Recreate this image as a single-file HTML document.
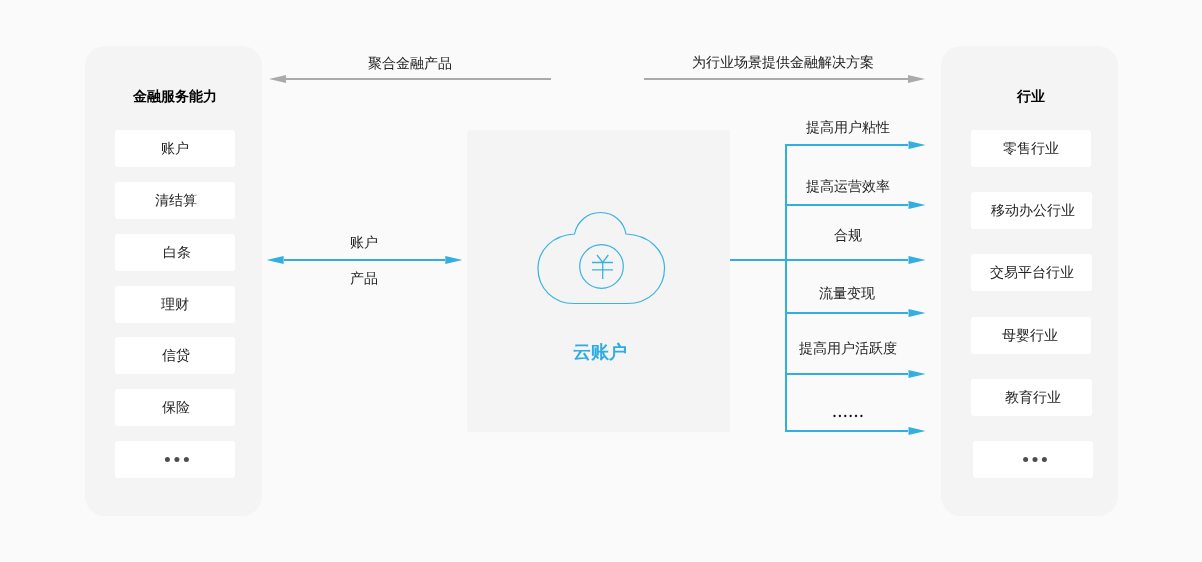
<!DOCTYPE html>
<html><head><meta charset="utf-8">
<style>
html,body{margin:0;padding:0;}
body{width:1202px;height:562px;background:#fafafa;position:relative;overflow:hidden;font-family:"Liberation Sans",sans-serif;color:#333;}
.abs{position:absolute;}
.t,.box,.title,.abs{will-change:transform;}
.panel{position:absolute;background:#f4f4f4;border-radius:20px;}
.box{position:absolute;background:#fff;border-radius:3px;font-size:14px;line-height:37px;height:37px;text-align:center;color:#222;}
.t{position:absolute;font-size:14px;line-height:16px;white-space:nowrap;color:#222;}
.title{position:absolute;font-size:14px;font-weight:bold;color:#000;line-height:16px;text-align:center;}
.dots{font-size:0;}
.dots i{display:inline-block;width:5px;height:5px;border-radius:50%;background:#555;margin:0 2px;vertical-align:middle;}
svg{position:absolute;left:0;top:0;}
</style></head>
<body>
<div class="panel" style="left:85px;top:46px;width:177px;height:470px;"></div>
<div class="panel" style="left:941px;top:46px;width:177px;height:470px;"></div>
<div class="abs" style="left:467px;top:130px;width:263px;height:302px;background:#f4f4f4;border-radius:2px;"></div>

<div class="title" style="left:85px;top:88px;width:175px;padding-left:2px;">金融服务能力</div>
<div class="title" style="left:941px;top:88px;width:175px;padding-left:2px;">行业</div>

<div class="box" style="left:115px;top:130px;width:120px;">账户</div>
<div class="box" style="left:115px;top:182px;width:118px;padding-left:2px;">清结算</div>
<div class="box" style="left:115px;top:234px;width:116px;padding-left:4px;">白条</div>
<div class="box" style="left:115px;top:286px;width:120px;">理财</div>
<div class="box" style="left:115px;top:337px;width:118px;padding-left:2px;">信贷</div>
<div class="box" style="left:115px;top:389px;width:118px;padding-left:2px;">保险</div>
<div class="box" style="left:115px;top:441px;width:120px;"></div>

<div class="box" style="left:971px;top:130px;width:120px;">零售行业</div>
<div class="box" style="left:971px;top:192px;width:119px;padding-left:2px;">移动办公行业</div>
<div class="box" style="left:971px;top:254px;width:120px;padding-left:1px;">交易平台行业</div>
<div class="box" style="left:971px;top:317px;width:117px;padding-right:3px;">母婴行业</div>
<div class="box" style="left:971px;top:379px;width:119px;padding-left:2px;">教育行业</div>
<div class="box" style="left:973px;top:441px;width:120px;"></div>

<div class="t" style="left:368px;top:55px;">聚合金融产品</div>
<div class="t" style="left:692px;top:54px;">为行业场景提供金融解决方案</div>
<div class="t" style="left:350px;top:234px;">账户</div>
<div class="t" style="left:350px;top:270px;">产品</div>

<div class="t" style="left:806px;top:119px;">提高用户粘性</div>
<div class="t" style="left:806px;top:178px;">提高运营效率</div>
<div class="t" style="left:834px;top:227px;">合规</div>
<div class="t" style="left:819px;top:285px;">流量变现</div>
<div class="t" style="left:799px;top:340px;">提高用户活跃度</div>


<div class="abs" style="left:467px;top:342px;width:263px;text-align:center;font-size:18px;font-weight:bold;color:#2eade2;line-height:20px;padding-left:2px;box-sizing:border-box;">云账户</div>

<svg width="1202" height="562" viewBox="0 0 1202 562">
  <g fill="#aaa" stroke="none">
    <rect x="286" y="78" width="265" height="2"/>
    <path d="M269,79 L286,75 L286,83 Z"/>
    <rect x="644" y="78" width="264" height="2"/>
    <path d="M925,79 L908,75 L908,83 Z"/>
  </g>
  <g fill="#30afe0" stroke="none">
    <rect x="284" y="259" width="161" height="2"/>
    <path d="M266.6,260 L283.6,256 L283.6,264 Z"/>
    <path d="M462.3,260 L445.3,256 L445.3,264 Z"/>
    <rect x="730" y="259" width="57" height="2"/>
    <rect x="785" y="144" width="2" height="288"/>
    <rect x="785" y="144" width="123" height="2"/>
    <rect x="785" y="204" width="123" height="2"/>
    <rect x="785" y="259" width="123" height="2"/>
    <rect x="785" y="312" width="123" height="2"/>
    <rect x="785" y="373" width="123" height="2"/>
    <rect x="785" y="430" width="123" height="2"/>
    <path d="M925.5,145 L908.5,141 L908.5,149 Z"/>
    <path d="M925.5,205 L908.5,201 L908.5,209 Z"/>
    <path d="M925.5,260 L908.5,256 L908.5,264 Z"/>
    <path d="M925.5,313 L908.5,309 L908.5,317 Z"/>
    <path d="M925.5,374 L908.5,370 L908.5,378 Z"/>
    <path d="M925.5,431 L908.5,427 L908.5,435 Z"/>
  </g>
  <g fill="none" stroke="#3ab2e0" stroke-width="1.2">
    <path d="M574.5,234 C577,222 587,212.5 600.5,212.5 C614,212.5 624,222 626,234 C649,235 664.5,250 664.5,268.5 C664.5,288 649,303.5 627,303.5 L574,303.5 C553,303.5 538,288 538,268.5 C538,250 553,235 574.5,234 Z"/>
    <circle cx="601.5" cy="266.5" r="21.8"/>
  </g>
  <g fill="none" stroke="#3ab2e0" stroke-width="1.3">
    <path d="M597,255 L602.7,262.5 L608.3,255 M592,262.5 L613,262.5 M592,269.8 L613,269.8 M602.7,262.5 L602.7,279"/>
  </g>
  <g fill="#111"><circle cx="834.50" cy="416" r="1.15"/><circle cx="839.88" cy="416" r="1.15"/><circle cx="845.26" cy="416" r="1.15"/><circle cx="850.64" cy="416" r="1.15"/><circle cx="856.02" cy="416" r="1.15"/><circle cx="861.40" cy="416" r="1.15"/></g>
  <g fill="#4d4d4d"><circle cx="167.4" cy="459.4" r="2.5"/><circle cx="176.9" cy="459.4" r="2.5"/><circle cx="186.4" cy="459.4" r="2.5"/><circle cx="1025.6" cy="459.4" r="2.5"/><circle cx="1035" cy="459.4" r="2.5"/><circle cx="1044.4" cy="459.4" r="2.5"/></g>
</svg>
</body></html>
